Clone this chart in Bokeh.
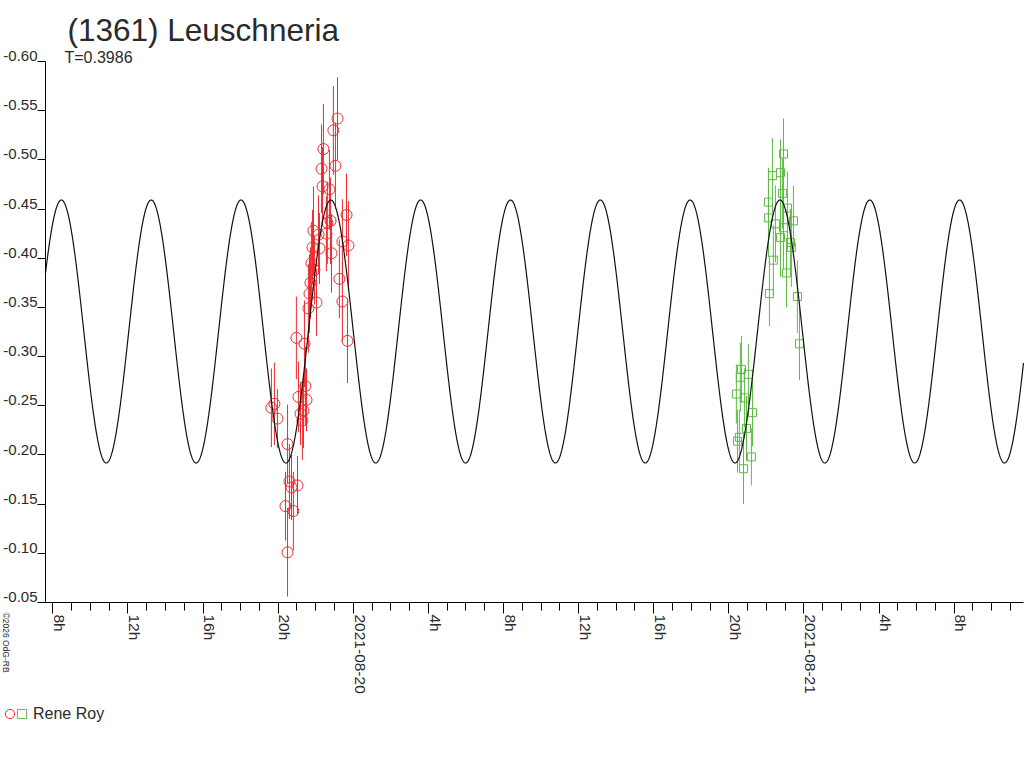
import math
import numpy as np
from bokeh.plotting import figure
from bokeh.models import (ColumnDataSource, Range1d, LinearAxis, FixedTicker,
                          CustomJSTickFormatter, Label, Legend, LegendItem)
from bokeh.core.properties import value
from bokeh.embed import file_html
from bokeh.resources import INLINE

# ---------------- texts ----------------
title_text = "(1361) Leuschneria"
subtitle_text = "T=0.3986"
observer_name = "Rene Roy"
credit_text = "\u00a92026 OdG-RB"

# ---------------- axes (x = hours since 2021-08-19 00:00 UT) ----------------
x_view = [7.61, 59.69]
x_major_hours = [8, 12, 16, 20, 24, 28, 32, 36, 40, 44, 48, 52, 56]
x_major_labels = ["8h", "12h", "16h", "20h", "2021-08-20", "4h", "8h", "12h",
                  "16h", "20h", "2021-08-21", "4h", "8h"]
x_minor_hours = list(range(8, 60))
y_ticks = [-0.05, -0.10, -0.15, -0.20, -0.25, -0.30, -0.35, -0.40, -0.45,
           -0.50, -0.55, -0.60]
y_tick_labels = ["-0.05", "-0.10", "-0.15", "-0.20", "-0.25", "-0.30", "-0.35",
                 "-0.40", "-0.45", "-0.50", "-0.55", "-0.60"]

# ---------------- fitted light-curve model ----------------
fit_period_days = 0.3986
fit_harmonic = 2
fit_mean = -0.3255
fit_amplitude = 0.1337
fit_peak_hour = 8.455

# ---------------- session 1 (red circles) ----------------
red_hours = [19.64, 19.80, 19.96, 20.39, 20.50, 20.50, 20.60, 20.71, 20.81, 21.03,
             20.97, 21.08, 21.19, 21.29, 21.35, 21.40, 21.45, 21.51, 21.61, 21.67,
             21.72, 21.77, 21.83, 21.88, 21.93, 22.04, 22.15, 22.20, 22.31, 22.36,
             22.41, 22.57, 22.62, 22.73, 22.79, 22.84, 22.94, 23.05, 23.16, 23.26,
             23.42, 23.42, 23.64, 23.69, 23.74]
red_mag = [-0.248, -0.252, -0.237, -0.148, -0.211, -0.101, -0.173, -0.167, -0.143, -0.169,
           -0.319, -0.259, -0.242, -0.235, -0.245, -0.313, -0.270, -0.256, -0.349, -0.364,
           -0.375, -0.395, -0.411, -0.428, -0.388, -0.355, -0.424, -0.410, -0.491, -0.473,
           -0.511, -0.425, -0.436, -0.470, -0.438, -0.405, -0.530, -0.494, -0.542, -0.379,
           -0.417, -0.356, -0.444, -0.316, -0.413]
red_err = [0.040, 0.042, 0.030, 0.035, 0.040, 0.045, 0.038, 0.033, 0.040, 0.030,
           0.042, 0.036, 0.032, 0.040, 0.038, 0.044, 0.040, 0.032, 0.045, 0.040,
           0.036, 0.042, 0.038, 0.045, 0.035, 0.034, 0.040, 0.036, 0.045, 0.040,
           0.046, 0.038, 0.042, 0.040, 0.044, 0.040, 0.045, 0.044, 0.042, 0.040,
           0.043, 0.040, 0.042, 0.043, 0.045]

# ---------------- session 2 (green squares) ----------------
green_hours = [44.40, 44.46, 44.56, 44.61, 44.67, 44.78, 44.83, 44.94, 45.04, 45.20,
               45.26, 46.11, 46.11, 46.16, 46.32, 46.37, 46.48, 46.75, 46.75, 46.85,
               46.91, 46.91, 47.07, 47.12, 47.28, 47.33, 47.44, 47.65, 47.76]
green_mag = [-0.262, -0.214, -0.218, -0.279, -0.287, -0.186, -0.258, -0.227, -0.282, -0.198,
             -0.243, -0.457, -0.441, -0.364, -0.484, -0.398, -0.435, -0.487, -0.421, -0.466,
             -0.506, -0.431, -0.385, -0.451, -0.416, -0.411, -0.438, -0.361, -0.313]
green_err = [0.030, 0.032, 0.028, 0.035, 0.034, 0.036, 0.030, 0.033, 0.031, 0.029,
             0.034, 0.035, 0.040, 0.033, 0.038, 0.036, 0.039, 0.034, 0.040, 0.036,
             0.036, 0.042, 0.035, 0.037, 0.034, 0.040, 0.036, 0.037, 0.037]

# ---------------- styling / layout ----------------
RED = "#ee2b30"
GREEN = "#5dbb46"
TEXT = "#2a2a2a"
FONT = "Liberation Sans"
W, H = 1024, 752
# plot box on the canvas (px): y axis at left, x axis at bottom
BOX_LEFT, BOX_RIGHT, BOX_TOP, BOX_BOTTOM = 45, 1023, 61, 602
y_bottom, y_top = y_ticks[0], y_ticks[-1]
px_per_h = (BOX_RIGHT - BOX_LEFT) / (x_view[1] - x_view[0])
px_per_mag = (BOX_BOTTOM - BOX_TOP) / (y_bottom - y_top)
x_canvas = Range1d(x_view[0] - BOX_LEFT / px_per_h, x_view[0] + (W - BOX_LEFT) / px_per_h)
y_canvas = Range1d(y_bottom + (H - BOX_BOTTOM) / px_per_mag, y_top - BOX_TOP / px_per_mag)

p = figure(width=W, height=H, output_backend="svg", toolbar_location=None,
           x_range=x_canvas, y_range=y_canvas,
           x_axis_type=None, y_axis_type=None, min_border=0)
p.title.visible = False
p.outline_line_color = None
p.background_fill_color = "white"
p.border_fill_color = "white"

nearest_js = """
let best = 0;
for (let i = 1; i < vals.length; i++) {
  if (Math.abs(vals[i] - tick) < Math.abs(vals[best] - tick)) { best = i; }
}
return labels[best];
"""
blank = CustomJSTickFormatter(code="return '';")

# y axis: line + ticks
y_tick_axis = LinearAxis(ticker=FixedTicker(ticks=y_ticks, minor_ticks=[]),
                         formatter=blank, bounds=(y_top, y_bottom), fixed_location=x_view[0],
                         major_tick_out=8, major_tick_in=0, minor_tick_out=0, minor_tick_in=0,
                         major_label_standoff=0, major_label_text_font_size="0px",
                         axis_line_color="black", major_tick_line_color="black")
p.add_layout(y_tick_axis, "left")
# y axis: labels, set just above their ticks
y_label_shift = 0.0055
y_label_pos = [v - y_label_shift for v in y_ticks]
y_label_axis = LinearAxis(ticker=FixedTicker(ticks=y_label_pos, minor_ticks=[]),
                          formatter=CustomJSTickFormatter(args=dict(vals=y_label_pos, labels=y_tick_labels),
                                                          code=nearest_js),
                          fixed_location=x_view[0],
                          axis_line_color=None, major_tick_line_color=None, minor_tick_line_color=None,
                          major_tick_out=0, major_tick_in=0, minor_tick_out=0, minor_tick_in=0,
                          major_label_standoff=8, major_label_text_font=FONT,
                          major_label_text_font_size="15px", major_label_text_color=TEXT)
p.add_layout(y_label_axis, "left")

# x axis: line + ticks
x_tick_axis = LinearAxis(ticker=FixedTicker(ticks=x_major_hours, minor_ticks=x_minor_hours),
                         formatter=blank, bounds=(x_view[0], x_view[1]), fixed_location=y_bottom,
                         major_tick_out=11, major_tick_in=0, minor_tick_out=8, minor_tick_in=0,
                         major_label_standoff=0, major_label_text_font_size="0px",
                         axis_line_color="black", major_tick_line_color="black",
                         minor_tick_line_color="black")
p.add_layout(x_tick_axis, "below")
# x axis: rotated labels, set just right of their ticks
x_label_shift = 0.36
x_label_pos = [h + x_label_shift for h in x_major_hours]
x_label_axis = LinearAxis(ticker=FixedTicker(ticks=x_label_pos, minor_ticks=[]),
                          formatter=CustomJSTickFormatter(args=dict(vals=x_label_pos, labels=x_major_labels),
                                                          code=nearest_js),
                          fixed_location=y_bottom,
                          axis_line_color=None, major_tick_line_color=None, minor_tick_line_color=None,
                          major_tick_out=0, major_tick_in=0, minor_tick_out=0, minor_tick_in=0,
                          major_label_standoff=12, major_label_orientation=-math.pi / 2,
                          major_label_text_font=FONT, major_label_text_font_size="15.5px",
                          major_label_text_color=TEXT)
p.add_layout(x_label_axis, "below")

# ---------------- data ----------------
red_src = ColumnDataSource(dict(t=red_hours, m=red_mag,
                                lo=[m - e for m, e in zip(red_mag, red_err)],
                                hi=[m + e for m, e in zip(red_mag, red_err)]))
green_src = ColumnDataSource(dict(t=green_hours, m=green_mag,
                                  lo=[m - e for m, e in zip(green_mag, green_err)],
                                  hi=[m + e for m, e in zip(green_mag, green_err)]))

p.segment(x0="t", y0="lo", x1="t", y1="hi", source=red_src, line_color=RED, line_width=1)
r_red = p.scatter(x="t", y="m", source=red_src, marker="circle", size=11,
                  fill_color=None, line_color=RED, line_width=1)
p.segment(x0="t", y0="lo", x1="t", y1="hi", source=green_src, line_color=GREEN, line_width=1)
r_green = p.scatter(x="t", y="m", source=green_src, marker="square", size=8,
                    fill_color=None, line_color=GREEN, line_width=1)

# fitted model curve
curve_t = np.linspace(x_view[0], x_view[1], 2500)
curve_m = fit_mean - fit_amplitude * np.cos(
    2 * np.pi * fit_harmonic * (curve_t - fit_peak_hour) / (fit_period_days * 24.0))
p.line(curve_t, curve_m, line_color="#111111", line_width=1.2)

# ---------------- texts ----------------
p.add_layout(Label(x=67, y=29, x_units="canvas", y_units="canvas", text=title_text,
                   text_font=FONT, text_font_size="31.5px", text_color=TEXT,
                   text_baseline="alphabetic", text_align="left"))
p.add_layout(Label(x=64, y=57, x_units="canvas", y_units="canvas", text=subtitle_text,
                   text_font=FONT, text_font_size="16px", text_color=TEXT,
                   text_baseline="alphabetic", text_align="left"))
p.add_layout(Label(x=5, y=612, x_units="canvas", y_units="canvas", text=credit_text,
                   angle=-math.pi / 2, text_font=FONT, text_font_size="8.5px",
                   text_color=TEXT, text_baseline="alphabetic", text_align="left"))

# ---------------- legend (two keys side by side, one name) ----------------
legend_common = dict(orientation="horizontal", glyph_width=23, glyph_height=23,
                     label_standoff=0, label_width=0, spacing=0, padding=0, margin=0,
                     border_line_color=None, background_fill_alpha=0,
                     label_text_font=FONT, label_text_font_size="16px", label_text_color=TEXT)
legend_red = Legend(items=[LegendItem(label=value(""), renderers=[r_red])],
                    location=(-2, H - 725), **legend_common)
legend_green = Legend(items=[LegendItem(label=value(observer_name), renderers=[r_green])],
                      location=(10, H - 725), **legend_common)
p.add_layout(legend_red, "center")
p.add_layout(legend_green, "center")

open("out.html", "w").write(file_html(p, INLINE))
